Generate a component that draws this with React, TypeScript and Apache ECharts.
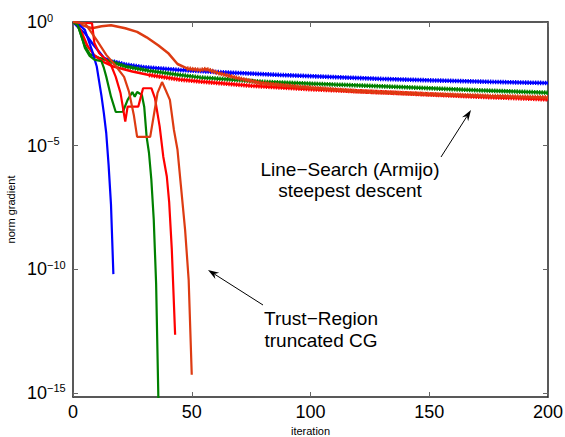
import React, { useEffect, useRef } from 'react';
import * as echarts from 'echarts';

const FONT = '"Liberation Sans", Arial, Helvetica, sans-serif';

// axes
const xTicks = [0, 50, 100, 150, 200];
const yTickValues = [1, 1e-5, 1e-10, 1e-15];
const Y_MIN = 6.76e-16;
const Y_MAX = 1;

const COLORS = { blue: '#0000ff', green: '#008000', red: '#ff0000', orange: '#dd3b12' };

// Trust-Region (truncated CG)
const trBlueIter = [0, 1, 2, 3, 5, 8, 10, 11, 12, 13, 14, 15, 16, 17];
const trBlueVal = [1, 0.955, 0.832, 0.708, 0.479, 0.0708, 0.0158, 0.00398, 0.001, 0.0002, 3.16e-5, 1.58e-6, 3.98e-8, 6.31e-11];

const trGreenIter = [0, 2, 4, 5, 7, 9, 12, 13, 14, 16, 18, 21, 23, 25, 26, 27, 29, 30, 31, 32, 33, 34, 35, 36];
const trGreenVal = [1, 0.759, 0.2, 0.0891, 0.0427, 0.0302, 0.0257, 0.0138, 0.00617, 0.000955, 0.000229, 0.000234, 0.000708, 0.00148, 0.000955, 0.00148, 0.00112, 0.000363, 2.24e-5, 5.01e-6, 3.98e-7, 1e-8, 2.51e-11, 3.16e-16];

const trRedIter = [0, 3, 8, 9, 11, 14, 16, 18, 20, 22, 23, 27.5, 29.5, 33, 34.5, 36.5, 38, 39.5, 40.5, 41.6, 43];
const trRedVal = [1, 0.933, 0.891, 0.141, 0.0562, 0.0288, 0.0182, 0.00603, 0.00135, 9.33e-5, 0.00038, 0.00038, 0.00209, 0.00209, 0.000832, 5.89e-5, 3.63e-6, 5.62e-7, 5.01e-8, 6.31e-10, 2.24e-13];

const trOrangeIter = [0, 5, 10, 14, 17.7, 21.5, 23.6, 25.6, 27, 32.5, 34.4, 35.6, 37.5, 39, 40.8, 42.5, 44, 45.4, 47.2, 48.7, 50];
const trOrangeVal = [1, 0.891, 0.186, 0.0468, 0.0182, 0.00603, 0.00148, 0.000174, 2.24e-5, 2.24e-5, 0.000275, 0.00135, 0.00372, 0.00178, 0.000708, 4.27e-5, 6.76e-6, 2.57e-7, 3.89e-9, 3.72e-11, 5.37e-15];

// Line-Search (Armijo) steepest descent
const sdBlueIter = [0, 3, 5, 8, 13, 17, 22, 30, 45, 60, 87, 110, 129, 150, 175, 200];
const sdBlueVal = [1, 0.501, 0.355, 0.141, 0.0355, 0.0251, 0.0191, 0.0148, 0.0115, 0.00955, 0.00724, 0.00589, 0.00501, 0.00437, 0.0038, 0.00339];

const sdGreenIter = [0, 2, 4, 5, 7, 11, 16, 22, 32, 45, 53.5, 80, 110, 138, 170, 200];
const sdGreenVal = [1, 0.759, 0.2, 0.107, 0.0501, 0.0355, 0.0251, 0.0158, 0.0107, 0.00724, 0.00575, 0.0038, 0.00295, 0.00234, 0.00174, 0.00138];

const sdRedIter = [0, 2, 4, 6, 9, 13, 17, 25, 32, 45, 53.5, 75, 100, 138, 170, 200];
const sdRedVal = [1, 0.794, 0.316, 0.112, 0.0447, 0.024, 0.0158, 0.01, 0.00724, 0.00468, 0.00389, 0.00263, 0.00191, 0.00132, 0.000955, 0.000741];

const sdOrangeIter = [0, 3, 8, 12, 16, 22, 27, 31, 36, 40, 44, 48, 53.5, 56, 61, 69, 79, 95, 120, 150, 175, 200];
const sdOrangeVal = [1, 0.794, 0.562, 0.676, 0.741, 0.562, 0.398, 0.24, 0.112, 0.0562, 0.02, 0.0132, 0.0115, 0.0126, 0.00871, 0.0055, 0.00339, 0.0024, 0.00158, 0.0012, 0.00102, 0.000891];

const pairs = (it: number[], v: number[]) => it.map((x, i) => [x, v[i]]);

function line(name: string, it: number[], v: number[], color: string, width = 2) {
  return {
    type: 'line', name, data: pairs(it, v), showSymbol: false, symbol: 'none',
    lineStyle: { color, width }, itemStyle: { color }, silent: true, clip: true,
  };
}
function beads(name: string, it: number[], v: number[], color: string, from: number) {
  return {
    type: 'line', name: name + ' beads', data: pairs(it, v).filter((p) => p[0] >= from),
    showSymbol: false, symbol: 'none', silent: true, clip: true,
    lineStyle: { color, width: 4.6, type: [1.3, 1.2], cap: 'butt' }, itemStyle: { color },
  };
}

function arrow(tail: number[], tip: number[]) {
  const dx = tip[0] - tail[0], dy = tip[1] - tail[1];
  const L = Math.hypot(dx, dy);
  const ux = dx / L, uy = dy / L, px = -uy, py = ux;
  const len = 11, half = 3.6, notch = 7.5;
  const bx = tip[0] - ux * len, by = tip[1] - uy * len;
  const nx = tip[0] - ux * notch, ny = tip[1] - uy * notch;
  return [
    { type: 'line', silent: true, shape: { x1: tail[0], y1: tail[1], x2: nx, y2: ny }, style: { stroke: '#000', lineWidth: 1 } },
    { type: 'polygon', silent: true, shape: { points: [tip, [bx + px * half, by + py * half], [nx, ny], [bx - px * half, by - py * half]] }, style: { fill: '#000' } },
  ];
}

function label(text: string, x: number, y: number) {
  return {
    type: 'text', x, y, silent: true,
    style: { text, fontSize: 19, fontFamily: FONT, fill: '#000', textAlign: 'center', textVerticalAlign: 'middle', align: 'center', verticalAlign: 'middle' },
  };
}

const axisLineStyle = { color: '#222', width: 1.5 };
const tickStyle = { color: '#666', width: 1 };

export default function App() {
  const ref = useRef<HTMLDivElement>(null);
  useEffect(() => {
    if (!ref.current) return;
    const chart = echarts.init(ref.current, undefined, { renderer: 'svg' });
    const yLabelFmt = (v: number) => {
      const e = Math.log10(v);
      const r = Math.round(e);
      if (Math.abs(e - r) > 0.01) return '';
      return `{b|10}{s|${r < 0 ? '\u2212' : ''}${Math.abs(r)}}`;
    };
    const option: any = {
      animation: false,
      backgroundColor: '#fff',
      grid: { left: 73, top: 22, right: 17, bottom: 40, containLabel: false, outerBoundsMode: 'none' },
      xAxis: [
        {
          type: 'value', min: xTicks[0], max: xTicks[xTicks.length - 1], interval: 50, position: 'bottom',
          name: 'iteration', nameLocation: 'middle', nameGap: 27,
          nameTextStyle: { fontSize: 11, fontFamily: FONT, color: '#000' },
          axisLine: { show: true, onZero: false, lineStyle: axisLineStyle },
          axisTick: { show: true, inside: true, length: 5, lineStyle: tickStyle },
          axisLabel: { fontSize: 18, fontFamily: FONT, color: '#000', margin: 6 },
          splitLine: { show: false },
        },
        {
          type: 'value', min: xTicks[0], max: xTicks[xTicks.length - 1], interval: 50, position: 'top',
          axisLine: { show: true, onZero: false, lineStyle: axisLineStyle },
          axisTick: { show: true, inside: true, length: 5, lineStyle: tickStyle },
          axisLabel: { show: false }, splitLine: { show: false },
        },
      ],
      yAxis: [
        {
          type: 'log', logBase: 10, min: Y_MIN, max: Y_MAX, position: 'left',
          name: 'norm gradient', nameLocation: 'middle', nameGap: 54,
          nameTextStyle: { fontSize: 11, fontFamily: FONT, color: '#000' },
          axisLine: { show: true, onZero: false, lineStyle: axisLineStyle },
          axisTick: { show: true, inside: true, length: 5, lineStyle: tickStyle, customValues: yTickValues },
          axisLabel: {
            customValues: yTickValues, formatter: yLabelFmt, align: 'left', margin: 46,
            rich: {
              b: { fontSize: 18, lineHeight: 20, fontFamily: FONT, color: '#000' },
              s: { fontSize: 11, lineHeight: 11, padding: [0, 0, 9, 0], fontFamily: FONT, color: '#000' },
            },
          },
          splitLine: { show: false }, minorTick: { show: false },
        },
        {
          type: 'log', logBase: 10, min: Y_MIN, max: Y_MAX, position: 'right',
          axisLine: { show: true, onZero: false, lineStyle: axisLineStyle },
          axisTick: { show: true, inside: true, length: 5, lineStyle: tickStyle, customValues: yTickValues },
          axisLabel: { show: false }, splitLine: { show: false },
        },
      ],
      series: [
        line('LS blue', sdBlueIter, sdBlueVal, COLORS.blue, 2.5),
        beads('LS blue', sdBlueIter, sdBlueVal, COLORS.blue, 14),
        line('LS green', sdGreenIter, sdGreenVal, COLORS.green, 2.5),
        beads('LS green', sdGreenIter, sdGreenVal, COLORS.green, 16),
        line('LS red', sdRedIter, sdRedVal, COLORS.red, 2.5),
        beads('LS red', sdRedIter, sdRedVal, COLORS.red, 30),
        line('LS orange', sdOrangeIter, sdOrangeVal, COLORS.orange, 2.5),
        beads('LS orange', sdOrangeIter, sdOrangeVal, COLORS.orange, 45),
        line('TR blue', trBlueIter, trBlueVal, COLORS.blue, 2.2),
        line('TR green', trGreenIter, trGreenVal, COLORS.green, 2.2),
        line('TR red', trRedIter, trRedVal, COLORS.red, 2.2),
        line('TR orange', trOrangeIter, trOrangeVal, COLORS.orange, 2.2),
      ],
      graphic: [
        label('Line\u2212Search (Armijo)', 350, 169),
        label('steepest descent', 350, 190),
        label('Trust\u2212Region', 321, 318),
        label('truncated CG', 321, 340),
        ...arrow([441, 157], [471, 110]),
        ...arrow([263, 305], [208, 270]),
      ],
    };
    chart.setOption(option);
    return () => chart.dispose();
  }, []);
  return (
    <div style={{ position: 'fixed', left: 0, top: 0, width: 565, height: 437, background: '#fff' }}>
      <div ref={ref} style={{ width: 565, height: 437 }} />
    </div>
  );
}
